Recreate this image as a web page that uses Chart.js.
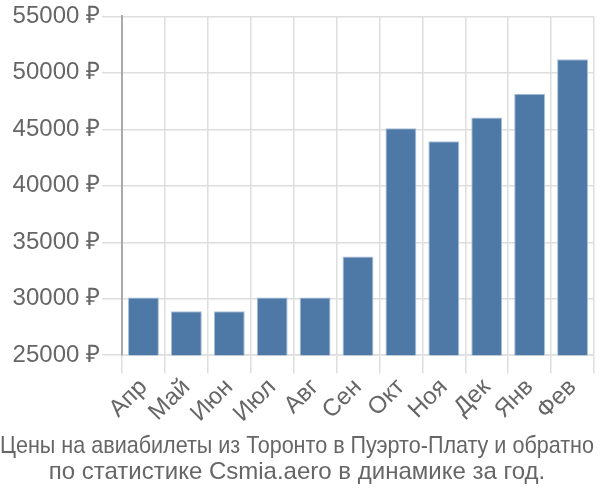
<!DOCTYPE html>
<html>
<head>
<meta charset="utf-8">
<script src="https://cdn.jsdelivr.net/npm/chart.js@4"></script>
<style>
  html, body { margin: 0; padding: 0; background: #fff; }
  #wrap { width: 600px; height: 500px; }
</style>
</head>
<body>
<div id="wrap"><canvas id="chart" width="600" height="500"></canvas></div>
<script>
const months = ["Апр", "Май", "Июн", "Июл", "Авг", "Сен", "Окт", "Ноя", "Дек", "Янв", "Фев"];
const prices = [30100, 28900, 28900, 30100, 30100, 33750, 45100, 43950, 46050, 48150, 51200];
const yTicks = [25000, 30000, 35000, 40000, 45000, 50000, 55000];
const titleLines = [
  "Цены на авиабилеты из Торонто в Пуэрто-Плату и обратно",
  "по статистике Csmia.aero в динамике за год."
];

const fontFamily = "'Liberation Sans', Arial, sans-serif";

const ctx = document.getElementById("chart").getContext("2d");
new Chart(ctx, {
  type: "bar",
  data: {
    labels: months,
    datasets: [{
      data: prices,
      backgroundColor: "#4e79a7",
      borderColor: "#a9c0da",
      borderWidth: 1,
      barPercentage: 0.72,
      categoryPercentage: 1
    }]
  },
  options: {
    responsive: false,
    animation: false,
    layout: { padding: { left: 0, right: 6, top: 15, bottom: 0 } },
    plugins: {
      legend: { display: false },
      tooltip: { enabled: false },
      title: {
        display: true,
        position: "bottom",
        text: titleLines,
        color: "#666",
        font: { family: fontFamily, size: 24, weight: "normal", lineHeight: 1.1 },
        padding: { top: 8, bottom: 14 }
      }
    },
    scales: {
      x: {
        afterFit: (axis) => { axis.height = 70; },
        grid: { color: "#dedede", lineWidth: 1.5, offset: true, tickLength: 18 },
        border: { color: "#dedede", width: 1.5 },
        ticks: {
          color: "#666",
          font: { family: fontFamily, size: 24 },
          autoSkip: false,
          maxRotation: 45,
          minRotation: 45,
          padding: 0
        }
      },
      y: {
        min: 25000,
        max: 55000,
        afterBuildTicks: (axis) => { axis.ticks = yTicks.map(v => ({ value: v })); },
        afterFit: (axis) => { axis.width = 122; },
        grid: { color: "#dedede", lineWidth: 1.5, tickLength: 20 },
        border: { color: "#aaa", width: 2 },
        ticks: {
          color: "#666",
          font: { family: fontFamily, size: 24 },
          padding: 2,
          callback: (v) => v + " ₽"
        }
      }
    }
  }
});
</script>
</body>
</html>
